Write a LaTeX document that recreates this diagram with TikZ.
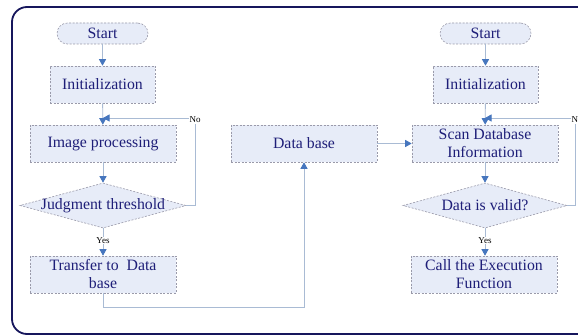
\documentclass[tikz,border=0pt]{standalone}
\usepackage{fontspec}
\setmainfont{Liberation Serif}
\usetikzlibrary{arrows.meta,shapes.geometric}
\definecolor{boxfill}{HTML}{E7ECF8}
\definecolor{boxline}{HTML}{9A9AAA}
\definecolor{wire}{HTML}{A9BBD4}
\definecolor{tipblue}{HTML}{4676BE}
\definecolor{inkblue}{HTML}{1E1E78}
\definecolor{framenavy}{HTML}{16165C}
\tikzset{
  x=1pt, y=-1pt,
  base/.style={draw=boxline, fill=boxfill, dash pattern=on 2pt off 1.5pt, line width=0.6pt,
    text=inkblue, font=\fontsize{15.8}{18}\selectfont, align=center, inner sep=0pt},
  procbox/.style={base, rectangle, minimum height=37pt},
  startbox/.style={base, rectangle, rounded corners=10.5pt, minimum width=91pt, minimum height=21pt},
  decision/.style={base, diamond, minimum width=166pt, minimum height=45pt},
  wireline/.style={draw=wire, line width=0.9pt},
  flow/.style={wireline, -{Triangle[width=7pt,length=6.5pt,color=tipblue]}},
  tag/.style={font=\fontsize{9}{10}\selectfont, text=black, fill=white, inner sep=0.6pt}
}
\begin{document}
\begin{tikzpicture}
\useasboundingbox (0,0) rectangle (578,336);
\fill[white] (0,0) rectangle (578,336);
% outer frame, running off to the right
\begin{scope}
  \clip (0,0) rectangle (578,336);
  \draw[framenavy, line width=1.8pt, rounded corners=15pt] (640,7) -- (12,7) -- (12,334) -- (640,334);
\end{scope}

% left flow
\node[startbox] (s1) at (102.5,33.5) {Start};
\node[procbox, minimum width=105pt] (i1) at (102.5,84.5) {Initialization};
\node[procbox, minimum width=146pt] (p1) at (103,143.5) {Image processing};
\node[decision] (d1) at (103,205.5) {\makebox[0pt]{Judgment threshold}};
\node[procbox, minimum width=146pt] (t1) at (103,274.5) {Transfer to~ Data\\base};
\coordinate (j1) at (103,118);
\coordinate (n1) at (195,118);
\coordinate (b1) at (103,307);

% middle
\node[procbox, minimum width=146pt] (db) at (304,143.5) {Data base};
\coordinate (b2) at (304,307);

% right flow
\node[startbox] (s2) at (485.5,33.5) {Start};
\node[procbox, minimum width=105pt] (i2) at (485.5,84.5) {Initialization};
\node[procbox, minimum width=146pt] (p2) at (485,143.5) {Scan Database\\Information};
\node[decision, minimum width=164pt] (d2) at (485,205.5) {\makebox[0pt]{Data is valid?}};
\node[procbox, minimum width=146pt] (c2) at (484,274.5) {Call the Execution\\Function};
\coordinate (j2) at (485,118);
\coordinate (n2) at (575,118);

% connectors, left
\draw[flow] (s1) -- (i1);
\draw[flow] (i1) -- (p1);
\draw[flow] (p1) -- (d1);
\draw[flow] (d1.east) -| (n1) -- (j1);
\node[tag] at (195,120) {No};
\draw[flow] (d1.south) -- node[tag, pos=0.45] {Yes} (t1.north);
\draw[flow] (t1.south) -- (b1) -- (b2) -- (db.south);

% middle to right
\draw[flow] (db.east) -- (p2.west);

% connectors, right
\draw[flow] (s2) -- (i2);
\draw[flow] (i2) -- (p2);
\draw[flow] (p2) -- (d2);
\draw[flow] (d2.east) -| (n2) -- (j2);
\node[tag] at (577,120) {No};
\draw[flow] (d2.south) -- node[tag, pos=0.45] {Yes} (c2.north -| d2.south);
\end{tikzpicture}
\end{document}
